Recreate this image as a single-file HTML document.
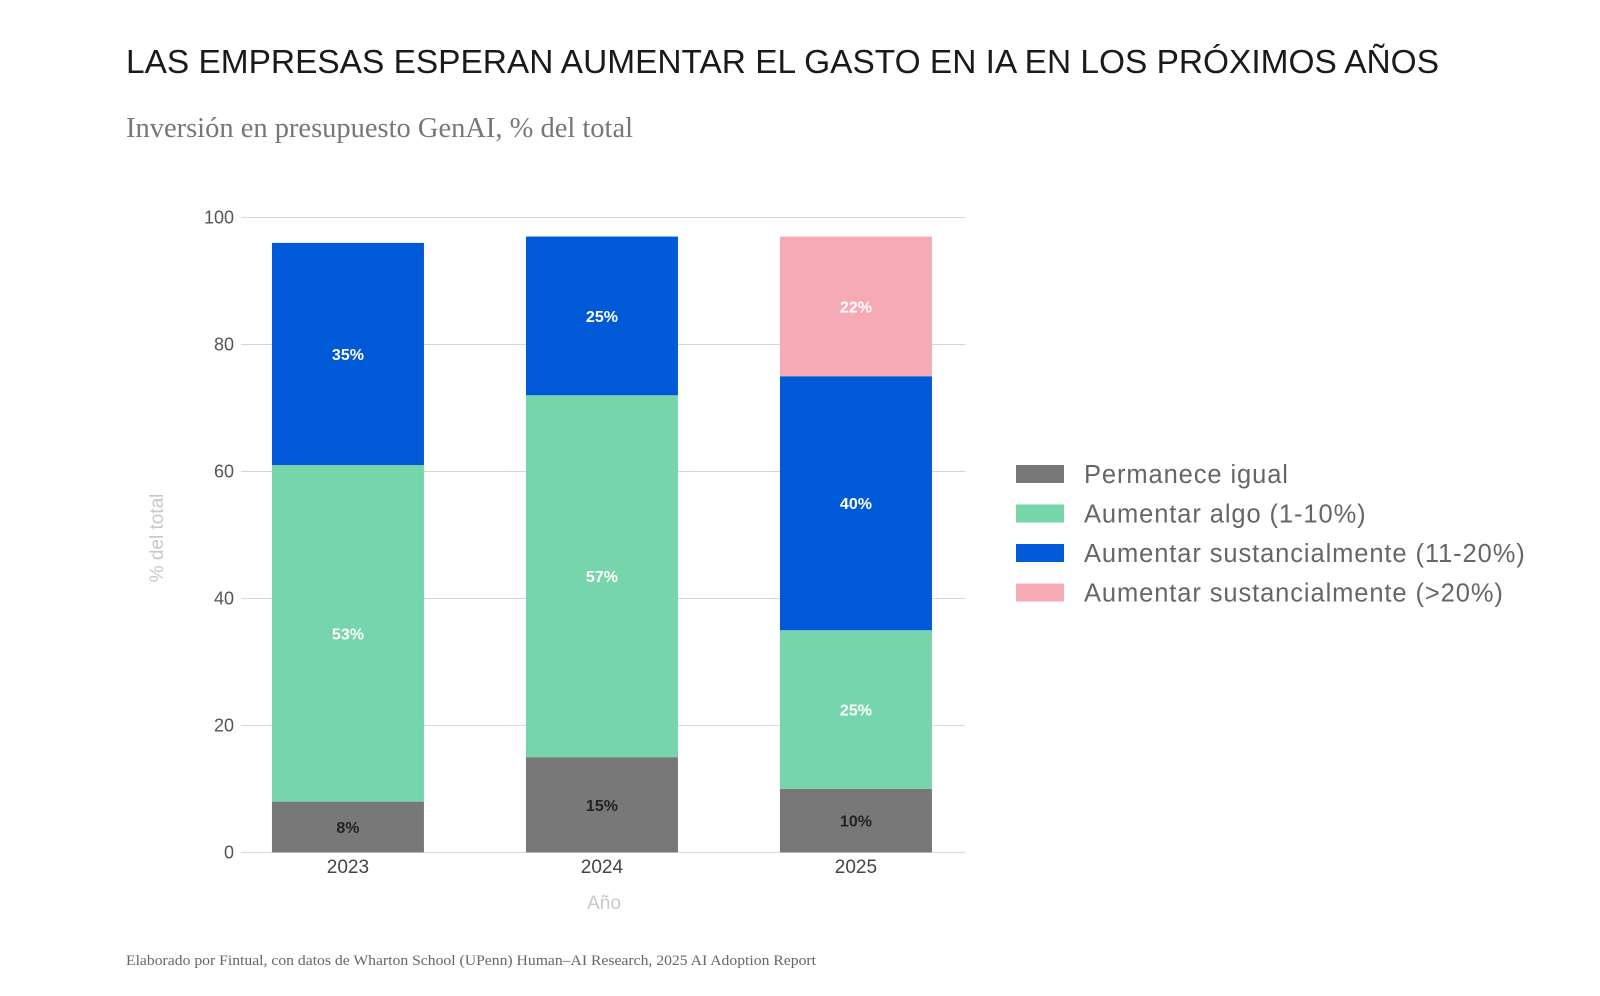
<!DOCTYPE html>
<html><head><meta charset="utf-8"><style>
html,body{margin:0;padding:0;background:#fff;width:1600px;height:996px;overflow:hidden}
svg{display:block}
</style></head><body>
<svg id="chart" width="1600" height="996">
<text x="126" y="73" font-family="Liberation Sans, sans-serif" font-size="33" fill="#1a1a1a" textLength="1313" lengthAdjust="spacingAndGlyphs">LAS EMPRESAS ESPERAN AUMENTAR EL GASTO EN IA EN LOS PRÓXIMOS AÑOS</text>
<text x="126" y="137" font-family="Liberation Serif, serif" font-size="28" fill="#777" textLength="507" lengthAdjust="spacingAndGlyphs">Inversión en presupuesto GenAI, % del total</text>
<g id="grid"></g>
<g id="bars"></g>
<g id="axes"></g>
<text x="604" y="909" text-anchor="middle" font-family="Liberation Sans, sans-serif" font-size="19" fill="#c8c8c8">Año</text>
<text transform="translate(163,538) rotate(-90)" text-anchor="middle" font-family="Liberation Sans, sans-serif" font-size="19" fill="#c8c8c8">% del total</text>
<g id="legend"></g>
<text x="126" y="965" font-family="Liberation Serif, serif" font-size="15" fill="#666" textLength="690" lengthAdjust="spacingAndGlyphs">Elaborado por Fintual, con datos de Wharton School (UPenn) Human–AI Research, 2025 AI Adoption Report</text>
</svg>
<script>
const categories = ["2023", "2024", "2025"];
const seriesNames = ["Permanece igual", "Aumentar algo (1-10%)", "Aumentar sustancialmente (11-20%)", "Aumentar sustancialmente (>20%)"];
const permanece = [8, 15, 10];
const algo = [53, 57, 25];
const sust1120 = [35, 25, 40];
const sust20 = [0, 0, 22];
const yTicks = [0, 20, 40, 60, 80, 100];

const series = [permanece, algo, sust1120, sust20];
const colors = ["#787878", "#76d5ab", "#005ad8", "#f6aab5"];
const labelColors = ["#222", "#fff", "#fff", "#fff"];
const NS = "http://www.w3.org/2000/svg";
const plotL = 241, plotR = 965, y0 = 852.4, y100 = 217.5;
const y = v => y0 + (y100 - y0) * v / 100;
const bandStart = 240, bandStep = 254, barW = 152;
const xc = i => bandStart + bandStep * (i + 0.425);
function mk(tag, attrs, parent) { const e = document.createElementNS(NS, tag); for (const k in attrs) e.setAttribute(k, attrs[k]); parent.appendChild(e); return e; }
const grid = document.getElementById('grid'), bars = document.getElementById('bars'), axes = document.getElementById('axes'), legend = document.getElementById('legend');
yTicks.forEach(t => {
  const l = mk('line', {x1: plotL, x2: plotR, y1: y(t), y2: y(t), stroke: '#d6d6d6', 'stroke-width': 1}, grid);
  
  
  const tx = mk('text', {x: 234, y: y(t) + 6, 'text-anchor': 'end', 'font-family': 'Liberation Sans, sans-serif', 'font-size': 18, fill: '#555'}, axes);
  tx.textContent = t;
  
  
});
categories.forEach((c, i) => {
  let cum = 0;
  series.forEach((s, k) => {
    const v = s[i];
    if (v > 0) {
      const r = mk('rect', {x: xc(i) - barW / 2, y: y(cum + v), width: barW, height: y(cum) - y(cum + v), fill: colors[k]}, bars);
      
      
      const t = mk('text', {x: xc(i), y: (y(cum) + y(cum + v)) / 2 + 6, 'text-anchor': 'middle', 'font-family': 'Liberation Sans, sans-serif', 'font-size': 16, 'font-weight': 'bold', fill: labelColors[k]}, bars);
      t.textContent = v + '%';
      
      
    }
    cum += v;
  });
  const t = mk('text', {x: xc(i), y: 873, 'text-anchor': 'middle', 'font-family': 'Liberation Sans, sans-serif', 'font-size': 19, fill: '#444'}, axes);
  t.textContent = c;
  
  
});
seriesNames.forEach((n, k) => {
  const cy = 474 + k * 39.5;
  const r = mk('rect', {x: 1016, y: cy - 9, width: 48, height: 18, fill: colors[k]}, legend);
  
  
  const t = mk('text', {x: 1084, y: cy + 9, 'font-family': 'Liberation Sans, sans-serif', 'font-size': 25.5, 'letter-spacing': '0.9', fill: '#666'}, legend);
  t.textContent = n;
  
  
});
</script>
</body></html>
